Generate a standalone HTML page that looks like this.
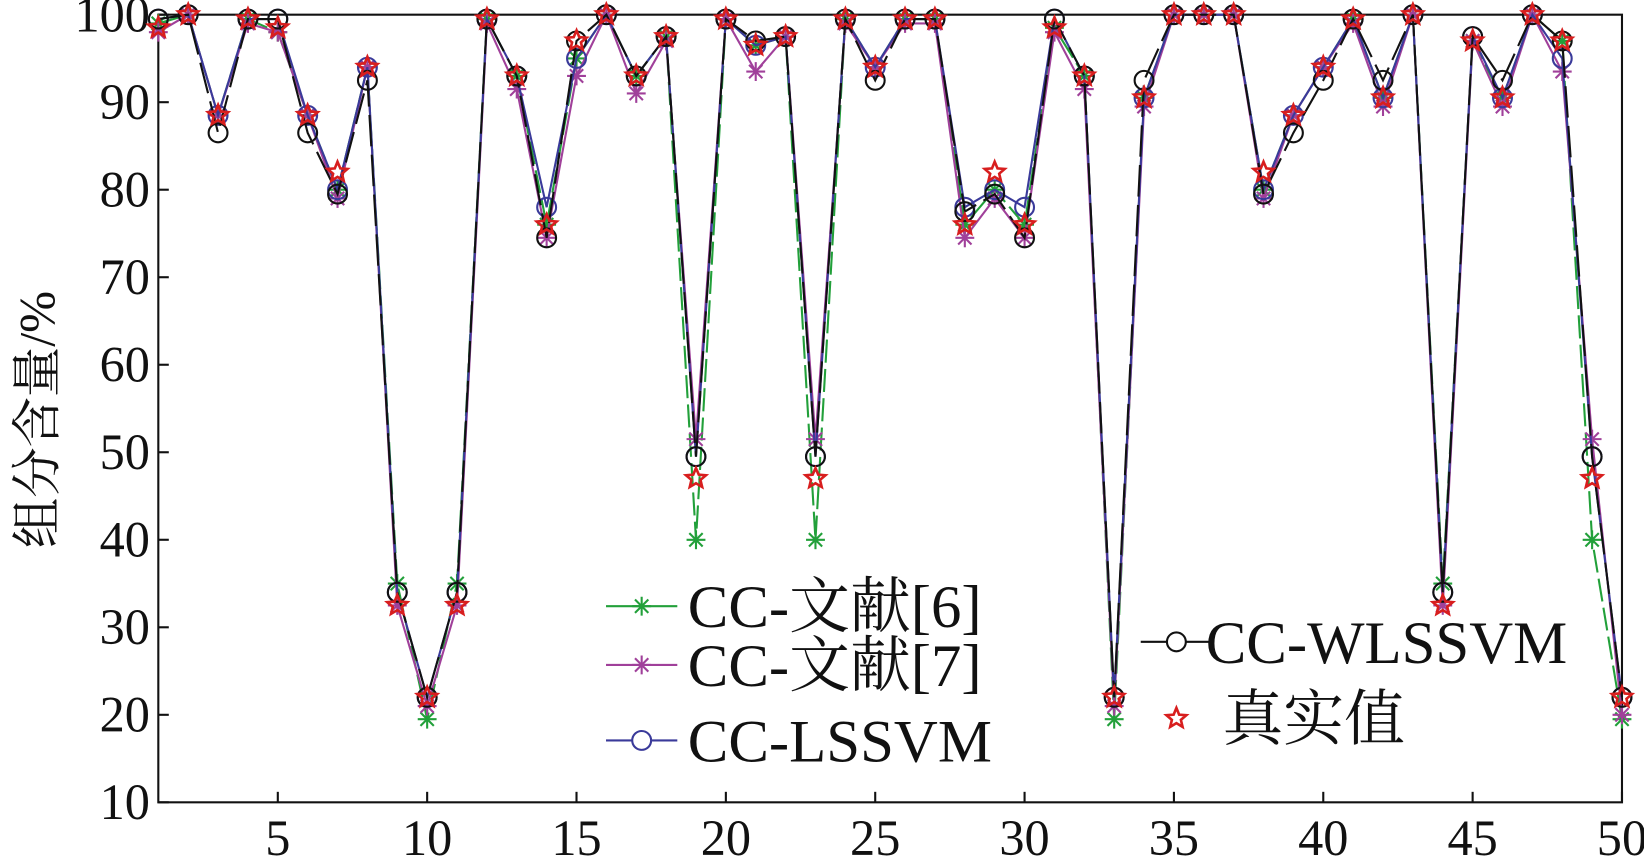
<!DOCTYPE html>
<html><head><meta charset="utf-8"><style>
html,body{margin:0;padding:0;background:#fff;}
svg{display:block;}
text{font-family:"Liberation Serif","Times New Roman","Noto Serif CJK SC",serif;fill:#111;}
</style></head><body>
<svg id="chart" width="1644" height="860" viewBox="0 0 1568 820" preserveAspectRatio="none"></svg>
<script>
const xTicks=[5,10,15,20,25,30,35,40,45,50];
const yTicks=[10,20,30,40,50,60,70,80,90,100];
const trueVals=[98.5,100,88.5,99.5,98.5,88.5,82,94,32.5,22,32.5,99.5,93,76,97,100,93,97.5,47,99.5,96.5,97.5,47,99.5,94,99.5,99.5,76,82,76,98.5,93,22,90.5,100,100,100,82,88.5,94,99.5,90.5,100,32.5,97,90.5,100,97,47,22];
const wlssvm=[99.5,100,86.5,99.5,99.5,86.5,79.5,92.5,34,22,34,99.5,93,74.5,97,100,93,97.5,49.5,99.5,97,97.5,49.5,99.5,92.5,99.5,99.5,77.5,79.5,74.5,99.5,93,22,92.5,100,100,100,79.5,86.5,92.5,99.5,92.5,100,34,97.5,92.5,100,97,49.5,22];
const lssvm=[99.5,100,88.5,99.5,99.5,88.5,80,94,34,22,34,99.5,93,78,95,100,93,97.5,49.5,99.5,96.5,97.5,49.5,99.5,94,99.5,99.5,78,80,78,99.5,93,22,90.5,100,100,100,80,88.5,94,99.5,90.5,100,34,97.5,90.5,100,95,49.5,22];
const lit6=[99,100,88.5,99.5,98,88.5,80,94,35,19.5,35,99.5,93,76,95,100,93,97.5,40,99.5,96.5,97.5,40,99.5,94,99.5,99.5,76,80,76,98.5,93,19.5,90.5,100,100,100,80,88.5,94,99.5,90.5,100,35,97,90.5,100,97,40,19.5];
const lit7=[98,100,88.5,99,98,88.5,79,94,32.5,21,32.5,99,91.5,74.5,93,100,91,97,51.5,99.5,93.5,97.5,51.5,99,94,99,99,74.5,79,74.5,98,91.5,21,89.5,100,100,100,79,88.5,94,99,89.5,100,32.5,97,89.5,100,93.5,51.5,20];
const svg=document.getElementById('chart');
const NS='http://www.w3.org/2000/svg';
const X0=151,X1=1547,Y0=14,Y1=765;
const xs=i=>X0+(i-1)*(X1-X0)/49;
const ys=v=>Y1-(v-10)*(Y1-Y0)/90;
function mk(t,a,p){const e=document.createElementNS(NS,t);for(const k in a)e.setAttribute(k,a[k]);(p||svg).appendChild(e);return e;}
const frame=mk('rect',{x:X0,y:Y0,width:X1-X0,height:Y1-Y0,fill:'none',stroke:'#111','stroke-width':2});


xTicks.forEach(t=>{
  const l=mk('line',{x1:xs(t),x2:xs(t),y1:Y1,y2:Y1-10,stroke:'#111','stroke-width':2});
  
  
  const tx=mk('text',{x:xs(t),y:Y1+50,'text-anchor':'middle','font-size':48});
  tx.textContent=t;
  
  
});
yTicks.forEach(t=>{
  const l=mk('line',{x1:X0,x2:X0+10,y1:ys(t),y2:ys(t),stroke:'#111','stroke-width':2});
  
  
  const tx=mk('text',{x:X0-8,y:ys(t)+16,'text-anchor':'end','font-size':48});
  tx.textContent=t;
  
  
});
const yt=mk('text',{x:0,y:0,'text-anchor':'middle','font-size':48,transform:'translate(52,400) rotate(-90)'});
yt.textContent='组分含量/%';


function star(g,x,y,c,r){for(let k=0;k<4;k++){const a=k*Math.PI/4;mk('line',{x1:x-r*Math.cos(a),y1:y-r*Math.sin(a),x2:x+r*Math.cos(a),y2:y+r*Math.sin(a),stroke:c,'stroke-width':2},g);}}
function pent(g,x,y,c,r){let p=[];for(let k=0;k<10;k++){const rr=k%2?r*0.45:r;const a=-Math.PI/2+k*Math.PI/5;p.push((x+rr*Math.cos(a)).toFixed(1)+','+(y+rr*Math.sin(a)).toFixed(1));}mk('polygon',{points:p.join(' '),fill:'none',stroke:c,'stroke-width':2.5},g);}
function series(name,data,color,marker,dash){
  const g=mk('g',{});
  
  
  if(marker!=='pent'){
    mk('polyline',{points:data.map((v,i)=>xs(i+1)+','+ys(v)).join(' '),fill:'none',stroke:color,'stroke-width':2,'stroke-dasharray':dash||'none'},g);
  }
  data.forEach((v,i)=>{
    const x=xs(i+1),y=ys(v);
    if(marker==='star')star(g,x,y,color,9);
    else if(marker==='circ')mk('circle',{cx:x,cy:y,r:9,fill:'none',stroke:color,'stroke-width':2},g);
    else pent(g,x,y,color,10);
  });
}
series('series-cc-lit6',lit6,'#22a03a','star','22,6');
series('series-cc-lit7',lit7,'#a0409a','star');
series('series-cc-lssvm',lssvm,'#3a3a9a','circ');
series('series-cc-wlssvm',wlssvm,'#111','circ','30,8');
series('series-true-value',trueVals,'#d81e1e','pent');
const leg=[['CC-文献[6]','#22a03a','star',578,578],['CC-文献[7]','#a0409a','star',578,634],['CC-LSSVM','#3a3a9a','circ',578,706],['CC-WLSSVM','#111','circ',1088,612],['真实值','#d81e1e','pent',1088,685]];
leg.forEach(l=>{
  const g=mk('g',{});
  
  
  const [t,c,m,x,y]=l;
  if(m!=='pent')mk('line',{x1:x,x2:x+68,y1:y,y2:y,stroke:c,'stroke-width':2},g);
  if(m==='star')star(g,x+34,y,c,9);else if(m==='circ')mk('circle',{cx:x+34,cy:y,r:9,fill:'#fff',stroke:c,'stroke-width':2},g);else pent(g,x+34,y,c,10);
  const tx=mk('text',{x:x+(m==='circ'&&x>1000?62:78),y:y+20,'font-size':58},g);
  tx.textContent=t;
});
</script>
</body></html>
